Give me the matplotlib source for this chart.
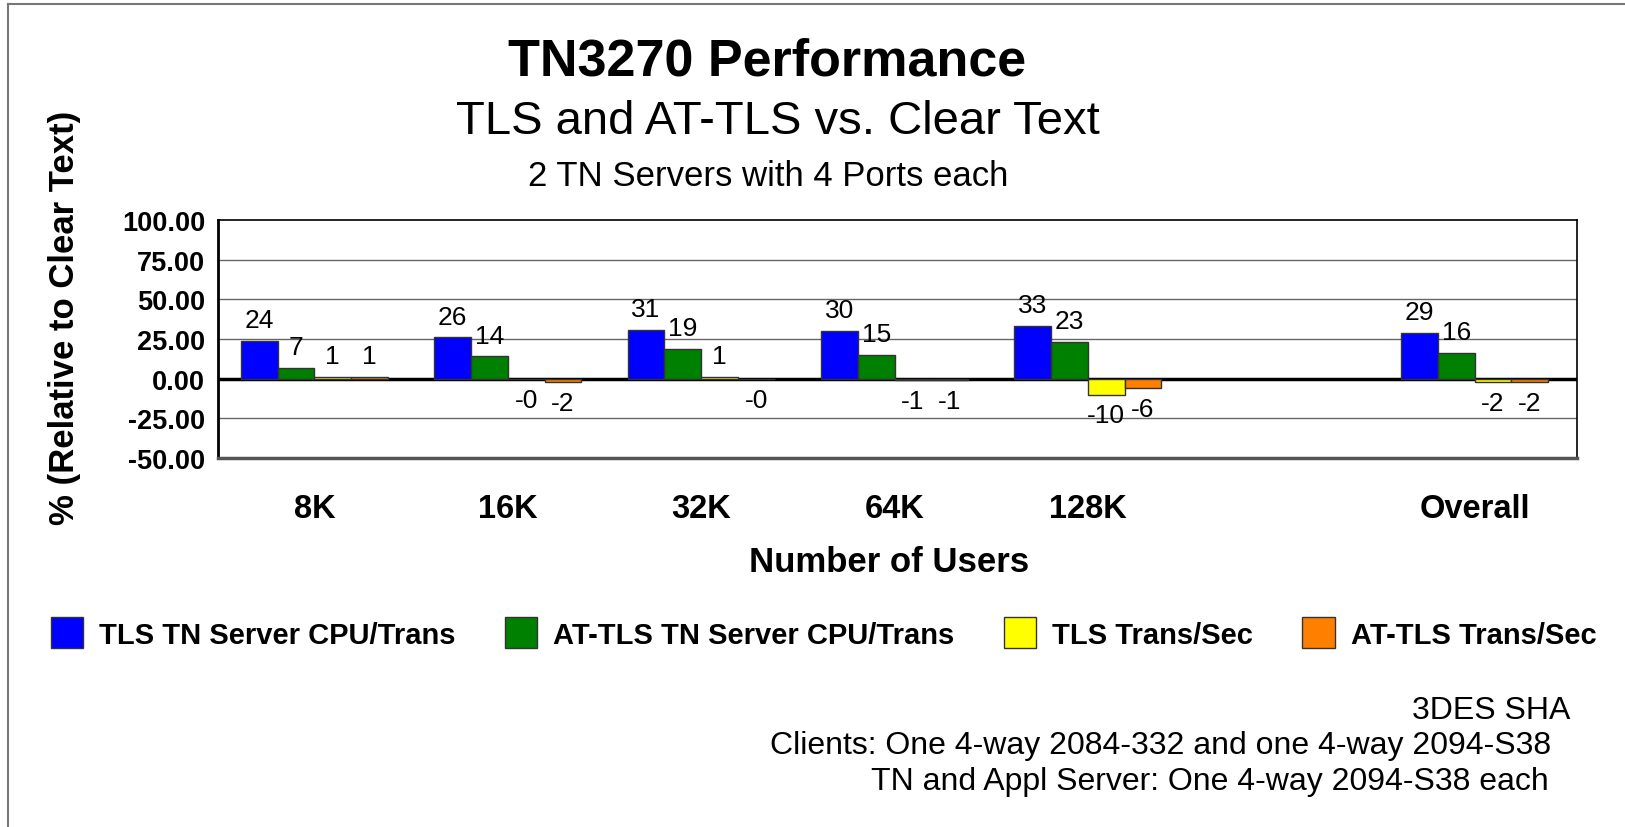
import matplotlib.pyplot as plt
import numpy as np
from matplotlib.lines import Line2D

plt.rcParams['font.family'] = ['Liberation Sans', 'DejaVu Sans']

# Data (a blank spacer slot sits between 128K and Overall)
categories = ['8K', '16K', '32K', '64K', '128K', '', 'Overall']
tls_cpu = [24, 26, 31, 30, 33, np.nan, 29]
attls_cpu = [7, 14, 19, 15, 23, np.nan, 16]
tls_tps = [1, -0.2, 1, -1, -10, np.nan, -2]
attls_tps = [1, -2, -0.2, -1, -6, np.nan, -2]

series = [
    ('TLS TN Server CPU/Trans', tls_cpu, '#0000FF'),
    ('AT-TLS TN Server CPU/Trans', attls_cpu, '#008000'),
    ('TLS Trans/Sec', tls_tps, '#FFFF00'),
    ('AT-TLS Trans/Sec', attls_tps, '#FF8000'),
]
yticks = [-50, -25, 0, 25, 50, 75, 100]

# -------------------------------------------------------------------------------------------------

fig = plt.figure(figsize=(16.25, 8.28), dpi=100)
fig.patch.set_facecolor('white')
ax = fig.add_axes([0.134, 0.4457, 0.8365, 0.2873])

x = np.arange(len(categories))
bw = 0.19
handles = []
for i, (name, vals, col) in enumerate(series):
    vals = np.array(vals, dtype=float)
    pos = x + (i - 1.5) * bw
    ok = ~np.isnan(vals)
    bars = ax.bar(pos[ok], vals[ok], width=bw, color=col, edgecolor='#333333',
                  linewidth=1, zorder=3, label=name)
    handles.append(bars)
    # value labels above positive bars, below negative ones
    for xp, v in zip(pos[ok], vals[ok]):
        off = 15 if v >= 0 else -15
        ax.annotate(f'{v:.0f}', (xp, v), xytext=(0, off),
                    textcoords='offset points', ha='center', va='center',
                    fontsize=19, zorder=4)

ax.set_xlim(-0.5, 6.53)
ax.set_ylim(-50, 100)

# Grid and zero line
for g in [75, 50, 25, -25]:
    ax.axhline(g, color='#666666', linewidth=1, zorder=1)
ax.axhline(0, color='black', linewidth=2.5, zorder=2)

# Ticks
ax.set_yticks(yticks)
ax.yaxis.set_major_formatter(lambda s, i: f'{s:,.2f}')
ax.tick_params(axis='y', length=0, pad=9, labelsize=19.5)
for lbl in ax.get_yticklabels():
    lbl.set_fontweight('bold')
ax.set_xticks(x, categories)
ax.tick_params(axis='x', length=0, pad=25, labelsize=23.5)
for lbl in ax.get_xticklabels():
    lbl.set_fontweight('bold')

# Spines
ax.spines['left'].set_linewidth(2)
ax.spines['top'].set_linewidth(1.2)
ax.spines['right'].set_linewidth(1.2)
ax.spines['bottom'].set_linewidth(2.5)
ax.spines['bottom'].set_color('#555555')

# Axis labels
fig.text(0.0394, 0.616, '% (Relative to Clear Text)', rotation=90, ha='center', va='center',
         fontsize=25, weight='bold')
fig.text(0.547, 1 - 563 / 828, 'Number of Users', ha='center', va='center',
         fontsize=25, weight='bold')

# Titles
fig.text(0.472, 1 - 62 / 828, 'TN3270 Performance', ha='center', va='center',
         fontsize=37.5, weight='bold')
fig.text(0.479, 1 - 122 / 828, 'TLS and AT-TLS vs. Clear Text', ha='center', va='center',
         fontsize=34)
fig.text(0.473, 1 - 176 / 828, '2 TN Servers with 4 Ports each', ha='center', va='center',
         fontsize=25)

# Legend
fig.legend(handles=handles, loc='center left', bbox_to_anchor=(0.024, 1 - 634 / 828),
           ncol=4, frameon=False, prop={'size': 21, 'weight': 'bold'},
           handlelength=1.1, handleheight=1.25, handletextpad=0.55, columnspacing=1.7,
           borderaxespad=0)

# Footnotes
fig.text(1570 / 1625, 1 - 711 / 828, '3DES SHA', ha='right', va='center', fontsize=23)
fig.text(1551 / 1625, 1 - 746 / 828, 'Clients: One 4-way 2084-332 and one 4-way 2094-S38',
         ha='right', va='center', fontsize=23)
fig.text(1549 / 1625, 1 - 782 / 828, 'TN and Appl Server: One 4-way 2094-S38 each',
         ha='right', va='center', fontsize=23)

# Outer border
fig.add_artist(Line2D([8 / 1625, 1], [1 - 5 / 828, 1 - 5 / 828], color='#777777',
                      linewidth=1.5, transform=fig.transFigure))
fig.add_artist(Line2D([8 / 1625, 8 / 1625], [0, 1 - 5 / 828], color='#777777',
                      linewidth=1.5, transform=fig.transFigure))

fig.savefig('out.png', dpi=100, facecolor='white')
